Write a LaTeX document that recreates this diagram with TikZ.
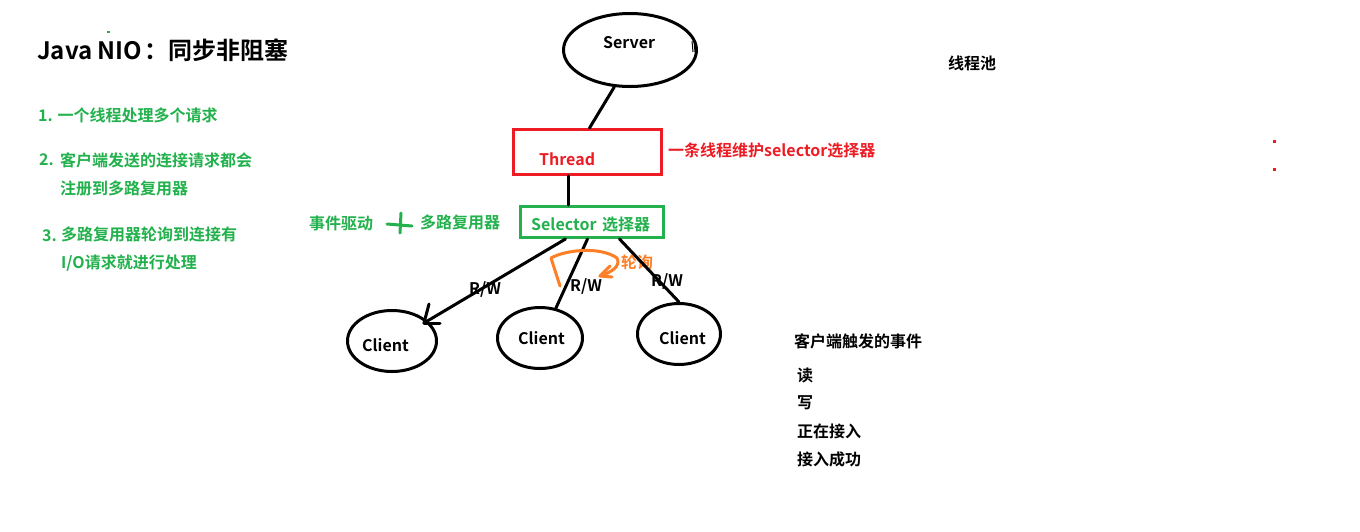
\documentclass[tikz,border=0pt]{standalone}
\usepackage{fontspec}
\usepackage{tikz}
\usetikzlibrary{shapes.geometric}
\setmainfont{Noto Sans CJK SC}[BoldFont={Noto Sans CJK SC Bold}]
\definecolor{nioGreen}{RGB}{34,177,76}
\definecolor{nioRed}{RGB}{237,28,36}
\definecolor{nioOrange}{RGB}{255,127,39}

\begin{document}
\begin{tikzpicture}[x=1pt,y=-1pt,
        txt/.style={inner sep=0pt, anchor=west, align=left,
                        font=\fontsize{16}{28}\selectfont\bfseries},
        hand/.style={line width=3pt, line cap=round, line join=round},
        blob/.style={ellipse, draw, line width=3pt, inner sep=0pt},
        boxy/.style={rectangle, draw, line width=3pt, inner sep=0pt,
                        minimum width=#1, minimum height=30pt}]
            \useasboundingbox (0,0) rectangle (1360,531);
            \fill[white] (0,0) rectangle (1360,531);

            % title and list
            \node[txt, font=\fontsize{24}{28}\selectfont\bfseries] (title) at (37,50) {Java NIO\hspace{2pt}：同步非阻塞};
            \node[txt, nioGreen] (itemA) at (38,115) {1. 一个线程处理多个请求};
            \node[txt, nioGreen] (itemB) at (39,160) {2.};
            \node[txt, nioGreen] (itemBtxt) at (60,174) {客户端发送的连接请求都会\\注册到多路复用器};
            \node[txt, nioGreen] (itemC) at (42,236) {3.};
            \node[txt, nioGreen] (itemCtxt) at (61,249) {多路复用器轮询到连接有\\I/O请求就进行处理};

            % shapes
            \node[blob, minimum width=133pt, minimum height=73pt] (server) at (630,50) {};
            \node[boxy=148pt, draw=nioRed, minimum height=45pt] (thread) at (587.5,152) {};
            \node[boxy=143pt, draw=nioGreen, minimum height=31pt] (selector) at (591.5,222) {};
            \node[blob, minimum width=89pt, minimum height=61pt] (clientA) at (392,341) {};
            \node[blob, minimum width=85pt, minimum height=61pt] (clientB) at (540,338) {};
            \node[blob, minimum width=83pt, minimum height=61pt] (clientC) at (679,334) {};

            % labels of the shapes
            \node[txt] (serverTxt) at (603,43) {Server};
            \node[txt, nioRed] (threadTxt) at (539,159) {Thread};
            \node[txt, nioRed] (threadNote) at (668,150) {一条线程维护selector选择器};
            \node[txt, nioGreen] (selectorTxt) at (531,225) {Selector\hspace{2pt} 选择器};
            \node[txt, nioGreen] (eventTxt) at (309,223) {事件驱动};
            \node[txt, nioGreen] (muxTxt) at (420,222) {多路复用器};
            \node[txt] (clientAtxt) at (362,345) {Client};
            \node[txt] (clientBtxt) at (518,338) {Client};
            \node[txt] (clientCtxt) at (659,338) {Client};
            \node[txt] (rwA) at (469,289) {R/W};
            \node[txt] (rwB) at (570,286) {R/W};
            \node[txt] (rwC) at (651,281) {R/W};
            \node[txt, nioOrange] (pollTxt) at (621,262) {轮询};
            \node[txt] (poolTxt) at (948,63) {线程池};
            \node[txt] (eventsTxt) at (794,341) {客户端触发的事件};
            \foreach \n/\y/\t in {readTxt/375/读,writeTxt/403/写,
                    connectingTxt/431/正在接入,connectedTxt/459/接入成功} {
                \node[txt] (\n) at (797,\y) {\t};
            }

            % connectors
            \coordinate (arrowEnd) at (424,323);
            \draw[hand] (server.247) -- ([xshift=2pt]thread.north);
            \draw[hand] ([xshift=-19pt]thread.south) -- ([xshift=-23pt]selector.north);
            \draw[hand] ([xshift=-26pt]selector.south) -- (arrowEnd);
            \draw[hand] (arrowEnd) -- +(5,-19);
            \draw[hand] (arrowEnd) -- +(16,0);
            \draw[hand] ([xshift=-4pt]selector.south) -- (clientB.62);
            \draw[hand] ([xshift=28pt]selector.south) -- (clientC.north);

            % sketched marks
            \draw[hand, nioGreen] (387,224) -- (412,226);
            \draw[hand, nioGreen] (401,213) -- (400,233);
            \draw[hand, nioOrange] (560,286) -- (551,258)
                .. controls (565,250) and (600,246) .. (617,258)
                .. controls (621,266) and (612,272) .. (600,276);
            \draw[hand, nioOrange] (610,266) -- (600,276) -- (612,277);
            \draw[line width=1pt] (692,41) -- (693,52) (694,41) -- (695,52);
            \fill[nioRed] (1273,140) rectangle (1276,143);
            \fill[nioRed] (1273,168) rectangle (1276,171);
            \fill[nioGreen] (107,31) rectangle (110,33);
        \end{tikzpicture}
\end{document}
